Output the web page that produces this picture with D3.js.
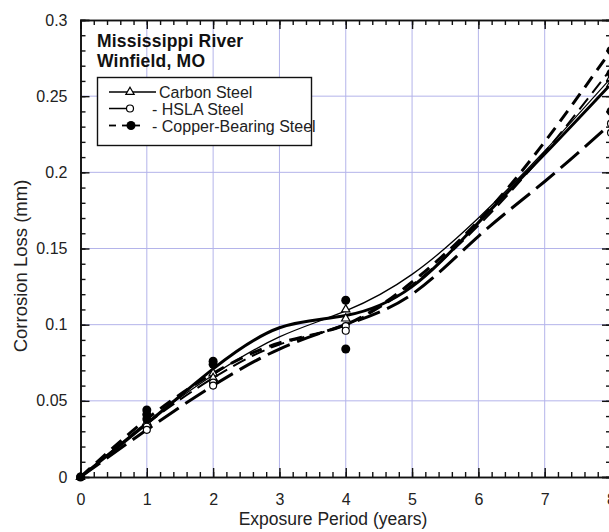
<!DOCTYPE html>
<html>
<head>
<meta charset="utf-8">
<script src="https://cdn.jsdelivr.net/npm/d3@7"></script>
<style>
  body { margin: 0; background: #fff; }
  svg { display: block; font-family: Arial, "Liberation Sans", sans-serif; }
  .tick-label { font-size: 16px; fill: #222; }
  .axis-title { font-size: 17.5px; fill: #222; }
</style>
</head>
<body>
<div id="chart"></div>
<script>
// exposure period in years, where the fit curves are read
var years = [0, 1, 2, 3, 4, 5, 6, 7, 8];

// fitted curves (corrosion loss, mm) read at each year
var carbonFit = [0, 0.035, 0.071, 0.098, 0.106, 0.125, 0.167, 0.212, 0.258];
var carbonFitThin = [0, 0.036, 0.067, 0.092, 0.109, 0.133, 0.170, 0.214, 0.262];
var hslaFit = [0, 0.031, 0.060, 0.084, 0.100, 0.120, 0.158, 0.194, 0.232];
var copperFit = [0, 0.038, 0.068, 0.088, 0.100, 0.128, 0.168, 0.220, 0.280];
var copperFitThin = [0, 0.035, 0.065, 0.087, 0.100, 0.126, 0.165, 0.213, 0.268];

// measured specimens
var carbonX = [0, 1, 1, 2, 2, 4, 4, 8, 8];
var carbonY = [0, 0.036, 0.034, 0.068, 0.065, 0.110, 0.104, 0.262, 0.258];
var hslaX = [0, 1, 1, 2, 2, 4, 4, 8, 8];
var hslaY = [0, 0.033, 0.031, 0.062, 0.060, 0.099, 0.096, 0.232, 0.226];
var copperX = [0, 1, 1, 1, 2, 2, 4, 4, 8, 8, 8];
var copperY = [0, 0.044, 0.041, 0.038, 0.076, 0.074, 0.116, 0.084, 0.280, 0.265, 0.240];

var xTicks = [0, 1, 2, 3, 4, 5, 6, 7, 8];
var yTicks = [0, 0.05, 0.1, 0.15, 0.2, 0.25, 0.3];
var yTickLabels = ["0", "0.05", "0.1", "0.15", "0.2", "0.25", "0.3"];

var legendLabels = ["Carbon Steel", "- HSLA Steel", "- Copper-Bearing Steel"];
var titleLines = ["Mississippi River", "Winfield, MO"];

var width = 609, height = 532;
var svg = d3.select("#chart").append("svg")
    .attr("width", width).attr("height", height);

var x = d3.scaleLinear().domain([0, 8]).range([80.5, 611]);
var y = d3.scaleLinear().domain([0, 0.3]).range([477, 20]);

var gridColor = "#b4b4ea";

// grid
svg.append("g").selectAll("line.vg")
    .data(xTicks.slice(1, -1))
    .enter().append("line")
    .attr("x1", function(d) { return x(d); })
    .attr("x2", function(d) { return x(d); })
    .attr("y1", y(0)).attr("y2", y(0.3))
    .style("stroke", gridColor).style("stroke-width", 1);
svg.append("g").selectAll("line.hg")
    .data(yTicks.slice(1, -1))
    .enter().append("line")
    .attr("y1", function(d) { return y(d); })
    .attr("y2", function(d) { return y(d); })
    .attr("x1", x(0)).attr("x2", x(8))
    .style("stroke", gridColor).style("stroke-width", 1);

// axes, ticks pointing inward
var xMinor = d3.range(0, 8.001, 0.2);
var yMinor = d3.range(0, 0.3001, 0.01);

var bottom = svg.append("g").attr("transform", "translate(0," + y(0) + ")")
    .call(d3.axisBottom(x).tickValues(xTicks).tickSize(-9).tickPadding(17)
        .tickFormat(d3.format("d")));
bottom.selectAll(".tick text").attr("class", "tick-label").attr("fill", null);

svg.append("g").attr("transform", "translate(0," + y(0) + ")")
    .call(d3.axisBottom(x).tickValues(xMinor).tickSize(-5).tickFormat(""));
svg.append("g").attr("transform", "translate(0," + y(0.3) + ")")
    .call(d3.axisTop(x).tickValues(xTicks).tickSize(-9).tickFormat(""));
svg.append("g").attr("transform", "translate(0," + y(0.3) + ")")
    .call(d3.axisTop(x).tickValues(xMinor).tickSize(-5).tickFormat(""));

var left = svg.append("g").attr("transform", "translate(" + x(0) + ",0)")
    .call(d3.axisLeft(y).tickValues(yTicks).tickSize(-9).tickPadding(13)
        .tickFormat(function(d, i) { return yTickLabels[i]; }));
left.selectAll(".tick text").attr("class", "tick-label").attr("fill", null);
svg.append("g").attr("transform", "translate(" + x(0) + ",0)")
    .call(d3.axisLeft(y).tickValues(yMinor).tickSize(-5).tickFormat(""));
svg.append("g").attr("transform", "translate(" + x(8) + ",0)")
    .call(d3.axisRight(y).tickValues(yTicks).tickSize(-9).tickFormat(""));
svg.append("g").attr("transform", "translate(" + x(8) + ",0)")
    .call(d3.axisRight(y).tickValues(yMinor).tickSize(-5).tickFormat(""));

svg.selectAll(".domain").style("stroke", "#111").style("stroke-width", 1.6);
svg.selectAll(".tick line").style("stroke", "#111").style("stroke-width", 1.4);

// axis titles
svg.append("text").attr("class", "axis-title")
    .attr("x", 333).attr("y", 525)
    .attr("text-anchor", "middle")
    .text("Exposure Period (years)");
svg.append("text").attr("class", "axis-title")
    .style("font-size", "18.5px")
    .attr("transform", "translate(27,266) rotate(-90)")
    .attr("text-anchor", "middle")
    .text("Corrosion Loss (mm)");

// fitted curves
var line = d3.line()
    .x(function(d, i) { return x(years[i]); })
    .y(function(d) { return y(d); })
    .curve(d3.curveNatural);

var curves = [
    { v: carbonFitThin, w: 1.3, dash: null },
    { v: hslaFit, w: 3, dash: "24,8" },
    { v: copperFitThin, w: 2, dash: "14,7" },
    { v: copperFit, w: 3, dash: "13,8" },
    { v: carbonFit, w: 3, dash: null }
];
svg.append("g").selectAll("path")
    .data(curves)
    .enter().append("path")
    .attr("d", function(d) { return line(d.v); })
    .style("fill", "none")
    .style("stroke", "#000")
    .style("stroke-width", function(d) { return d.w; })
    .style("stroke-dasharray", function(d) { return d.dash; });

// markers
var tri = d3.symbol().type(d3.symbolTriangle).size(30);
svg.append("g").selectAll("path")
    .data(carbonY)
    .enter().append("path")
    .attr("d", tri)
    .attr("transform", function(d, i) { return "translate(" + x(carbonX[i]) + "," + y(d) + ")"; })
    .style("fill", "#fff").style("stroke", "#000").style("stroke-width", 1.2);
svg.append("g").selectAll("circle")
    .data(hslaY)
    .enter().append("circle")
    .attr("cx", function(d, i) { return x(hslaX[i]); })
    .attr("cy", function(d) { return y(d); })
    .attr("r", 3.5)
    .style("fill", "#fff").style("stroke", "#000").style("stroke-width", 1.2);
svg.append("g").selectAll("circle")
    .data(copperY)
    .enter().append("circle")
    .attr("cx", function(d, i) { return x(copperX[i]); })
    .attr("cy", function(d) { return y(d); })
    .attr("r", 4.5)
    .style("fill", "#000");

// title
svg.append("g").selectAll("text")
    .data(titleLines)
    .enter().append("text")
    .attr("x", 97).attr("y", function(d, i) { return 47 + i * 20; })
    .style("font-size", "17.5px").style("font-weight", "bold").style("fill", "#111")
    .style("letter-spacing", "0.2px")
    .text(function(d) { return d; });

// legend
var lg = svg.append("g");
lg.append("rect")
    .attr("x", 97.5).attr("y", 77.5).attr("width", 214).attr("height", 68)
    .style("fill", "#fff").style("stroke", "#111").style("stroke-width", 1.4);
var rowsY = [92, 108.5, 125.5];
lg.append("line").attr("x1", 109).attr("x2", 156).attr("y1", rowsY[0]).attr("y2", rowsY[0])
    .style("stroke", "#000").style("stroke-width", 1.5);
lg.append("path").attr("d", tri)
    .attr("transform", "translate(130," + rowsY[0] + ")")
    .style("fill", "#fff").style("stroke", "#000").style("stroke-width", 1.2);
lg.append("line").attr("x1", 109).attr("x2", 134).attr("y1", rowsY[1]).attr("y2", rowsY[1])
    .style("stroke", "#000").style("stroke-width", 1.5);
lg.append("circle").attr("cx", 130).attr("cy", rowsY[1]).attr("r", 3.5)
    .style("fill", "#fff").style("stroke", "#000").style("stroke-width", 1.2);
lg.append("line").attr("x1", 109).attr("x2", 116).attr("y1", rowsY[2]).attr("y2", rowsY[2])
    .style("stroke", "#000").style("stroke-width", 1.8);
lg.append("line").attr("x1", 122).attr("x2", 140).attr("y1", rowsY[2]).attr("y2", rowsY[2])
    .style("stroke", "#000").style("stroke-width", 1.8);
lg.append("circle").attr("cx", 131).attr("cy", rowsY[2]).attr("r", 4.5)
    .style("fill", "#000");
lg.selectAll("text.lab")
    .data(legendLabels)
    .enter().append("text")
    .attr("x", function(d, i) { return i === 0 ? 159 : 152; })
    .attr("y", function(d, i) { return rowsY[i] + 6; })
    .style("font-size", "16px").style("fill", "#222")
    .text(function(d) { return d; });
</script>
</body>
</html>
